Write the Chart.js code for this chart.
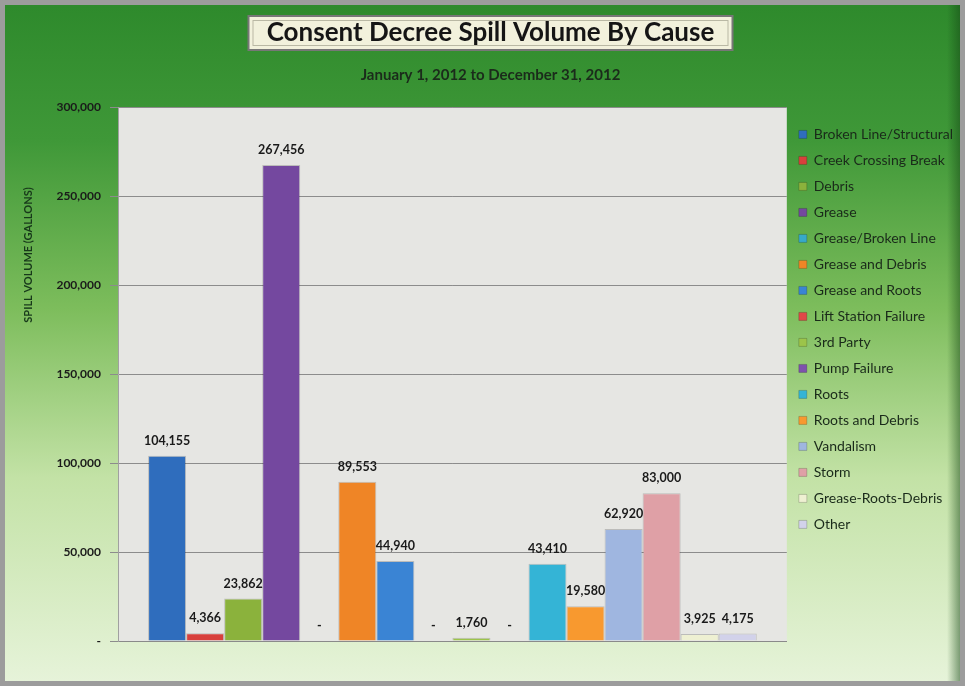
<!DOCTYPE html>
<html>
<head>
<meta charset="utf-8">
<script src="https://cdn.jsdelivr.net/npm/chart.js@4/dist/chart.umd.min.js"></script>
<style>
  html, body { margin: 0; padding: 0; background: #9a9a9a; }
  #wrap { width: 965px; height: 686px; position: relative; }
</style>
</head>
<body>
<div id="wrap"><canvas id="spillChart" width="965" height="686"></canvas></div>
<script>
const causes = ["Broken Line/Structural", "Creek Crossing Break", "Debris", "Grease",
  "Grease/Broken Line", "Grease and Debris", "Grease and Roots", "Lift Station Failure",
  "3rd Party", "Pump Failure", "Roots", "Roots and Debris", "Vandalism", "Storm",
  "Grease-Roots-Debris", "Other"];
const volumes = [104155, 4366, 23862, 267456, 0, 89553, 44940, 0,
  1760, 0, 43410, 19580, 62920, 83000, 3925, 4175];
const barColors = ["#2f6dbd", "#d8403c", "#8bb23c", "#74489f", "#37a9c9", "#ef8526",
  "#3a84d4", "#e04848", "#9cc44a", "#7e52ad", "#34b4d6", "#f8992f",
  "#9fb6e0", "#dfa0a6", "#eef0d2", "#d2d2ea"];
const yTicks = [0, 50000, 100000, 150000, 200000, 250000, 300000];

const fontFam = "Lato, 'Open Sans', sans-serif";
const fmt = v => v === 0 ? "-" : v.toLocaleString("en-US");

// background, frame and plot area
const backdrop = {
  id: "backdrop",
  beforeDraw(chart) {
    const { ctx, width, height, chartArea: a } = chart;
    ctx.save();
    ctx.fillStyle = "#9c9c9c";
    ctx.fillRect(0, 0, width, height);
    const g = ctx.createLinearGradient(0, 5, 0, height - 5);
    g.addColorStop(0, "#2e8a2c");
    g.addColorStop(0.2, "#3f9838");
    g.addColorStop(0.45, "#7dbd5c");
    g.addColorStop(0.7, "#c3e2a6");
    g.addColorStop(1, "#e6f3d9");
    ctx.fillStyle = g;
    ctx.fillRect(5, 5, width - 10, height - 10);
    const r = ctx.createLinearGradient(width - 18, 0, width - 5, 0);
    r.addColorStop(0, "rgba(20,70,20,0)");
    r.addColorStop(1, "rgba(20,70,20,0.5)");
    ctx.fillStyle = r;
    ctx.fillRect(width - 18, 5, 13, height - 10);
    ctx.fillStyle = "#e6e6e3";
    ctx.fillRect(a.left, a.top, a.right - a.left, a.bottom - a.top);
    ctx.restore();
  }
};

// box behind the main title
const titleBox = {
  id: "titleBox",
  beforeDraw(chart) {
    const t = chart.titleBlock;
    if (!t) return;
    const { ctx } = chart;
    ctx.save();
    const cx = (t.left + t.right) / 2;
    const w = 486, x = cx - w / 2, y = 15, h = 36;
    ctx.fillStyle = "#777";
    ctx.fillRect(x, y, w, h);
    ctx.fillStyle = "#f2f1dc";
    ctx.fillRect(x + 2, y + 2, w - 4, h - 4);
    ctx.strokeStyle = "#b9b8a4";
    ctx.lineWidth = 1;
    ctx.strokeRect(x + 5.5, y + 5.5, w - 11, h - 11);
    ctx.restore();
  }
};

// rotated y axis title and value labels
const labels = {
  id: "labels",
  afterDatasetsDraw(chart) {
    const { ctx } = chart;
    ctx.save();
    ctx.font = "bold 12.5px " + fontFam;
    ctx.fillStyle = "#1a1a1a";
    ctx.textAlign = "center";
    ctx.textBaseline = "middle";
    chart.data.datasets.forEach((ds, i) => {
      const bar = chart.getDatasetMeta(i).data[0];
      ctx.fillText(fmt(ds.data[0]), bar.x, bar.y - 15);
    });
    ctx.translate(28, 255);
    ctx.rotate(-Math.PI / 2);
    ctx.font = "bold 11px " + fontFam;
    ctx.fillStyle = "#17381a";
    ctx.fillText("SPILL VOLUME (GALLONS)", 0, 0);
    ctx.restore();
  }
};

new Chart(document.getElementById("spillChart"), {
  type: "bar",
  data: {
    labels: [""],
    datasets: causes.map((c, i) => ({
      label: c,
      data: [volumes[i]],
      backgroundColor: barColors[i],
      borderColor: "rgba(0,0,0,0.18)",
      borderWidth: 1,
      categoryPercentage: 0.91,
      barPercentage: 1.0
    }))
  },
  options: {
    responsive: false,
    animation: false,
    layout: { padding: { top: 12, left: 18, right: 2, bottom: 37 } },
    scales: {
      x: {
        ticks: { display: false },
        grid: { display: false },
        border: { display: true, color: "#8a8a8a" }
      },
      y: {
        min: 0,
        max: 300000,
        afterBuildTicks: axis => { axis.ticks = yTicks.map(v => ({ value: v })); },
        afterFit: axis => { axis.width = 100; },
        ticks: {
          callback: v => fmt(v),
          color: "#1a1a1a",
          font: { family: fontFam, size: 12, weight: "bold" },
          padding: 9
        },
        grid: { color: "#8c8c8c", tickLength: 8, tickColor: "#8c8c8c" },
        border: { display: true, color: "#a0a0a0" }
      }
    },
    plugins: {
      title: {
        display: true,
        text: "Consent Decree Spill Volume By Cause",
        color: "#151515",
        font: { family: fontFam, size: 26, weight: "bold" },
        padding: { top: 5, bottom: 15 }
      },
      subtitle: {
        display: true,
        text: "January 1, 2012 to December 31, 2012",
        color: "#1b2b1b",
        font: { family: fontFam, size: 15, weight: "bold" },
        padding: { top: 3, bottom: 23 }
      },
      legend: {
        position: "right",
        align: "start",
        fullSize: false,
        title: { display: true, text: " ", font: { size: 1 }, padding: { top: 0, bottom: 7 } },
        labels: {
          boxWidth: 8,
          boxHeight: 8,
          padding: 12,
          color: "#1a2a1a",
          font: { family: fontFam, size: 14 }
        }
      },
      tooltip: { enabled: false }
    }
  },
  plugins: [backdrop, titleBox, labels]
});
</script>
</body>
</html>
